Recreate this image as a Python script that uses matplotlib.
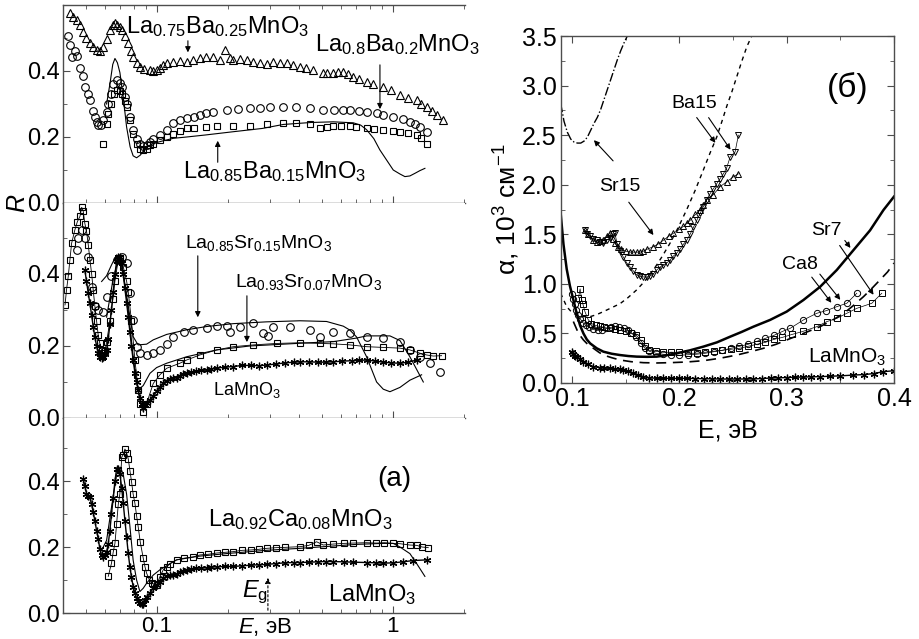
import matplotlib
matplotlib.use("Agg")
import matplotlib.pyplot as plt
from matplotlib.ticker import MultipleLocator, NullFormatter, LogLocator, FixedLocator, FixedFormatter, FormatStrFormatter

plt.rcParams['font.family'] = ['Liberation Sans', 'DejaVu Sans']
plt.rcParams['mathtext.fontset'] = 'custom'
plt.rcParams['mathtext.rm'] = 'Liberation Sans'
plt.rcParams['mathtext.it'] = 'Liberation Sans:italic'
plt.rcParams['mathtext.bf'] = 'Liberation Sans:bold'

# ---------- reflectivity R(E), Ba-doped (top) ----------
ba25_E = [0.0428, 0.0440, 0.0457, 0.0472, 0.0487, 0.0503, 0.0520, 0.0537, 0.0555, 0.0573,
          0.0592, 0.0612, 0.0632, 0.0650, 0.0664, 0.0680, 0.0697, 0.0709, 0.0730, 0.0756,
          0.0780, 0.0793, 0.0820, 0.0847, 0.0880, 0.0934, 0.0965, 0.0997, 0.1030, 0.1064,
          0.1100, 0.1173, 0.125, 0.1336, 0.142, 0.1521, 0.162, 0.1733, 0.1849, 0.1941,
          0.2038, 0.2106, 0.225, 0.2398, 0.256, 0.2732, 0.2915, 0.3111, 0.332, 0.3542,
          0.378, 0.4036, 0.43, 0.4596, 0.5066, 0.5234, 0.5587, 0.5866, 0.6161, 0.646,
          0.6791, 0.72, 0.7735, 0.82, 0.91, 0.98, 1.071, 1.16, 1.26, 1.32,
          1.389, 1.46, 1.531, 1.634]
ba25_R = [0.575, 0.565, 0.555, 0.538, 0.519, 0.500, 0.484, 0.472, 0.464, 0.462,
          0.474, 0.498, 0.524, 0.538, 0.544, 0.540, 0.532, 0.524, 0.505, 0.484,
          0.460, 0.443, 0.425, 0.413, 0.406, 0.403, 0.401, 0.403, 0.410, 0.418,
          0.424, 0.428, 0.429, 0.428, 0.432, 0.438, 0.441, 0.443, 0.433, 0.464,
          0.438, 0.433, 0.436, 0.433, 0.427, 0.423, 0.420, 0.428, 0.424, 0.423,
          0.418, 0.413, 0.410, 0.403, 0.393, 0.395, 0.395, 0.397, 0.398, 0.390,
          0.383, 0.377, 0.368, 0.361, 0.351, 0.341, 0.327, 0.319, 0.312, 0.300,
          0.292, 0.280, 0.267, 0.252]

ba20_E = [0.0420, 0.0428, 0.0435, 0.0450, 0.0457, 0.0472, 0.0487, 0.0495, 0.0510, 0.0520,
          0.0537, 0.0546, 0.0555, 0.0564, 0.0580, 0.0592, 0.0612, 0.0622, 0.0640, 0.0653,
          0.0675, 0.0697, 0.0709, 0.0730, 0.0744, 0.0770, 0.0793, 0.0820, 0.0847, 0.0875,
          0.0904, 0.0934, 0.0965, 0.1030, 0.1099, 0.1173, 0.125, 0.1336, 0.143, 0.1521,
          0.162, 0.1733, 0.1973, 0.22, 0.2477, 0.2732, 0.30, 0.3429, 0.39, 0.4447,
          0.5066, 0.56, 0.6161, 0.6574, 0.72, 0.7735, 0.8527, 0.91, 1.003, 1.10,
          1.18, 1.24, 1.301, 1.389]
ba20_R = [0.505, 0.480, 0.443, 0.460, 0.445, 0.410, 0.385, 0.352, 0.330, 0.312,
          0.280, 0.262, 0.245, 0.236, 0.235, 0.250, 0.275, 0.300, 0.330, 0.360,
          0.373, 0.365, 0.352, 0.320, 0.300, 0.260, 0.220, 0.195, 0.180, 0.172,
          0.175, 0.185, 0.195, 0.205, 0.222, 0.242, 0.252, 0.258, 0.262, 0.267,
          0.272, 0.276, 0.282, 0.284, 0.287, 0.289, 0.290, 0.292, 0.290, 0.287,
          0.282, 0.282, 0.282, 0.282, 0.279, 0.277, 0.272, 0.268, 0.262, 0.255,
          0.246, 0.238, 0.231, 0.216]

ba15_E = [0.0592, 0.0612, 0.0622, 0.0642, 0.0660, 0.0675, 0.0697, 0.0709, 0.0730, 0.0744,
          0.0770, 0.0793, 0.0820, 0.0850, 0.0875, 0.0904, 0.0934, 0.0965, 0.1030, 0.1099,
          0.1173, 0.125, 0.1336, 0.143, 0.162, 0.179, 0.2106, 0.2477, 0.2915, 0.3429,
          0.39, 0.4447, 0.4904, 0.5234, 0.5587, 0.60, 0.6574, 0.70, 0.7735, 0.83,
          0.91, 1.003, 1.071, 1.16, 1.26, 1.32, 1.389]
ba15_R = [0.180, 0.240, 0.270, 0.300, 0.330, 0.342, 0.338, 0.330, 0.310, 0.290,
          0.250, 0.210, 0.180, 0.165, 0.160, 0.165, 0.175, 0.180, 0.192, 0.200,
          0.210, 0.218, 0.226, 0.228, 0.230, 0.232, 0.233, 0.234, 0.238, 0.242,
          0.241, 0.240, 0.226, 0.230, 0.234, 0.233, 0.232, 0.230, 0.226, 0.224,
          0.220, 0.218, 0.216, 0.212, 0.206, 0.198, 0.180]

fit_ba_E = [0.0612, 0.0632, 0.0650, 0.0664, 0.0680, 0.0697, 0.0720, 0.0744, 0.0770, 0.0793,
            0.0820, 0.0850, 0.0904, 0.0965, 0.1030, 0.1173, 0.1336, 0.16, 0.2106, 0.28,
            0.3429, 0.45, 0.5587, 0.6791, 0.73, 0.7735, 0.83, 0.88, 1.003, 1.07,
            1.124, 1.18, 1.24, 1.30, 1.366]
fit_ba_R = [0.300, 0.360, 0.420, 0.438, 0.425, 0.395, 0.320, 0.230, 0.170, 0.143,
            0.137, 0.145, 0.170, 0.180, 0.186, 0.196, 0.200, 0.206, 0.216, 0.226,
            0.238, 0.244, 0.246, 0.243, 0.236, 0.222, 0.195, 0.161, 0.100, 0.088,
            0.080, 0.082, 0.090, 0.098, 0.105]

# ---------- Sr-doped and LaMnO3 (middle) ----------
sr07_E = [0.0408, 0.0414, 0.0421, 0.0428, 0.0435, 0.0449, 0.0460, 0.0472, 0.0480, 0.0487,
          0.0495, 0.0503, 0.0512, 0.0520, 0.0529, 0.0537, 0.0546, 0.0555, 0.0564, 0.0573,
          0.0583, 0.0592, 0.0602, 0.0612, 0.0632, 0.0650, 0.0664, 0.0686, 0.0700, 0.0720,
          0.0744, 0.0756, 0.0780, 0.0807, 0.0820, 0.0833, 0.0850, 0.0875, 0.0904, 0.0965,
          0.1030, 0.1099, 0.125, 0.1336, 0.1521, 0.179, 0.2106, 0.256, 0.3214, 0.4036,
          0.4904, 0.5587, 0.6574, 0.7735, 0.91, 1.071, 1.18, 1.301, 1.389, 1.483,
          1.608]
sr07_R = [0.314, 0.356, 0.393, 0.440, 0.485, 0.522, 0.545, 0.560, 0.585, 0.575,
          0.540, 0.520, 0.480, 0.440, 0.400, 0.356, 0.310, 0.270, 0.230, 0.207,
          0.190, 0.180, 0.185, 0.210, 0.270, 0.330, 0.380, 0.440, 0.445, 0.420,
          0.380, 0.350, 0.270, 0.160, 0.120, 0.078, 0.040, 0.018, 0.040, 0.096,
          0.120, 0.138, 0.152, 0.161, 0.175, 0.189, 0.198, 0.203, 0.207, 0.209,
          0.207, 0.206, 0.203, 0.198, 0.196, 0.194, 0.189, 0.180, 0.175, 0.172,
          0.173]

sr15_E = [0.0457, 0.0465, 0.0480, 0.0495, 0.0512, 0.0529, 0.0546, 0.0564, 0.0592, 0.0612,
          0.0642, 0.0675, 0.0709, 0.0744, 0.0769, 0.0793, 0.0820, 0.0847, 0.0904, 0.0965,
          0.1030, 0.1099, 0.1173, 0.130, 0.1426, 0.1623, 0.179, 0.1973, 0.2038, 0.2248,
          0.256, 0.2822, 0.2963, 0.3111, 0.3662, 0.4447, 0.4904, 0.5587, 0.6574, 0.7735,
          0.91, 1.071, 1.18, 1.301, 1.435, 1.582]
sr15_R = [0.467, 0.500, 0.522, 0.500, 0.448, 0.363, 0.310, 0.300, 0.295, 0.337,
          0.395, 0.440, 0.448, 0.430, 0.346, 0.272, 0.198, 0.180, 0.175, 0.180,
          0.190, 0.205, 0.226, 0.238, 0.244, 0.249, 0.255, 0.256, 0.240, 0.254,
          0.263, 0.235, 0.228, 0.254, 0.252, 0.244, 0.226, 0.240, 0.237, 0.226,
          0.221, 0.210, 0.189, 0.170, 0.152, 0.129]

la_mid_E = [0.0495, 0.0503, 0.0512, 0.0520, 0.0529, 0.0537, 0.0546, 0.0555, 0.0564, 0.0573,
            0.0583, 0.0592, 0.0602, 0.0612, 0.0622, 0.0632, 0.0642, 0.0653, 0.0664, 0.0675,
            0.0686, 0.0697, 0.0709, 0.0720, 0.0732, 0.0744, 0.0756, 0.0768, 0.0780, 0.0793,
            0.0807, 0.0820, 0.0833, 0.0847, 0.0861, 0.0875, 0.0890, 0.0904, 0.0934, 0.0965,
            0.0997, 0.1030, 0.1064, 0.1099, 0.1136, 0.1173, 0.1211, 0.125, 0.129, 0.1336,
            0.140, 0.147, 0.154, 0.1623, 0.170, 0.180, 0.195, 0.2106, 0.230, 0.250,
            0.270, 0.2915, 0.320, 0.350, 0.380, 0.4036, 0.440, 0.480, 0.520, 0.5587,
            0.610, 0.670, 0.720, 0.7735, 0.840, 0.910, 0.980, 1.071, 1.160, 1.260]
la_mid_R = [0.411, 0.380, 0.346, 0.318, 0.285, 0.254, 0.225, 0.200, 0.180, 0.170,
            0.166, 0.170, 0.178, 0.189, 0.220, 0.260, 0.300, 0.350, 0.400, 0.435,
            0.448, 0.448, 0.430, 0.400, 0.360, 0.320, 0.281, 0.240, 0.200, 0.161,
            0.125, 0.100, 0.078, 0.055, 0.038, 0.027, 0.035, 0.042, 0.050, 0.062,
            0.075, 0.087, 0.097, 0.104, 0.108, 0.110, 0.112, 0.118, 0.122, 0.124,
            0.127, 0.130, 0.132, 0.133, 0.136, 0.139, 0.141, 0.143, 0.146, 0.146,
            0.145, 0.147, 0.150, 0.153, 0.155, 0.156, 0.156, 0.155, 0.155, 0.156,
            0.158, 0.159, 0.160, 0.161, 0.158, 0.155, 0.153, 0.152, 0.155, 0.161]

fit_sr15_E = [0.0583, 0.0612, 0.0642, 0.0675, 0.0700, 0.0720, 0.0744, 0.0769, 0.0793, 0.0820,
              0.0833, 0.0904, 0.0965, 0.1099, 0.1336, 0.1623, 0.2106, 0.2915, 0.4036, 0.5234,
              0.6161, 0.6574, 0.7015, 0.7735, 0.8527, 0.91, 0.9712, 1.071, 1.18, 1.323]
fit_sr15_R = [0.379, 0.395, 0.425, 0.453, 0.440, 0.400, 0.340, 0.280, 0.226, 0.210,
              0.203, 0.205, 0.217, 0.232, 0.245, 0.254, 0.262, 0.267, 0.270, 0.268,
              0.255, 0.244, 0.225, 0.170, 0.100, 0.080, 0.073, 0.085, 0.105, 0.120]

fit_sr07_E = [0.0612, 0.0650, 0.0686, 0.0720, 0.0756, 0.0793, 0.0820, 0.0833, 0.0875, 0.0934,
              0.0997, 0.1099, 0.1336, 0.179, 0.2477, 0.3429, 0.4447, 0.5587, 0.7015, 0.7735,
              0.9712, 1.071, 1.18, 1.26, 1.345]
fit_sr07_R = [0.280, 0.380, 0.440, 0.400, 0.300, 0.170, 0.100, 0.078, 0.090, 0.124,
              0.140, 0.152, 0.170, 0.189, 0.200, 0.205, 0.209, 0.212, 0.222, 0.228,
              0.228, 0.215, 0.170, 0.135, 0.100]

# ---------- Ca-doped and LaMnO3 (bottom) ----------
la_bot_E = [0.0487, 0.0495, 0.0503, 0.0512, 0.0520, 0.0529, 0.0537, 0.0546, 0.0555, 0.0564,
            0.0573, 0.0583, 0.0592, 0.0602, 0.0612, 0.0622, 0.0632, 0.0642, 0.0653, 0.0664,
            0.0675, 0.0686, 0.0697, 0.0709, 0.0720, 0.0732, 0.0744, 0.0756, 0.0768, 0.0780,
            0.0793, 0.0807, 0.0820, 0.0833, 0.0847, 0.0861, 0.0875, 0.0890, 0.0904, 0.0934,
            0.0965, 0.0997, 0.1030, 0.1064, 0.1099, 0.1136, 0.1173, 0.1211, 0.125, 0.129,
            0.1336, 0.140, 0.147, 0.154, 0.1623, 0.170, 0.180, 0.195, 0.2106, 0.230,
            0.250, 0.270, 0.2915, 0.320, 0.350, 0.380, 0.4036, 0.440, 0.480, 0.520,
            0.5587, 0.620, 0.680, 0.7735, 0.850, 0.910, 1.000, 1.100, 1.219, 1.389]
la_bot_R = [0.407, 0.385, 0.362, 0.355, 0.352, 0.330, 0.305, 0.280, 0.250, 0.225,
            0.195, 0.175, 0.171, 0.175, 0.185, 0.210, 0.250, 0.300, 0.350, 0.400,
            0.437, 0.437, 0.422, 0.380, 0.332, 0.280, 0.230, 0.181, 0.140, 0.110,
            0.080, 0.060, 0.045, 0.035, 0.030, 0.027, 0.027, 0.040, 0.050, 0.060,
            0.075, 0.085, 0.095, 0.105, 0.112, 0.116, 0.116, 0.118, 0.124, 0.128,
            0.131, 0.134, 0.136, 0.136, 0.137, 0.139, 0.140, 0.141, 0.141, 0.143,
            0.145, 0.146, 0.147, 0.150, 0.152, 0.153, 0.153, 0.154, 0.155, 0.156,
            0.156, 0.155, 0.154, 0.153, 0.152, 0.151, 0.152, 0.155, 0.159, 0.161]

ca08_E = [0.0622, 0.0642, 0.0653, 0.0664, 0.0675, 0.0686, 0.0697, 0.0709, 0.0720, 0.0732,
          0.0744, 0.0756, 0.0769, 0.0781, 0.0793, 0.0807, 0.0820, 0.0833, 0.0850, 0.0875,
          0.0890, 0.0904, 0.0930, 0.0949, 0.0970, 0.0997, 0.1030, 0.1064, 0.110, 0.1136,
          0.1211, 0.130, 0.1426, 0.1521, 0.165, 0.180, 0.195, 0.2106, 0.230, 0.250,
          0.270, 0.2915, 0.320, 0.350, 0.4036, 0.440, 0.4748, 0.5066, 0.5587, 0.620,
          0.680, 0.7735, 0.850, 0.920, 1.003, 1.071, 1.18, 1.26, 1.33, 1.412]
ca08_R = [0.111, 0.151, 0.185, 0.211, 0.271, 0.330, 0.362, 0.472, 0.480, 0.497,
          0.485, 0.467, 0.430, 0.397, 0.360, 0.332, 0.295, 0.261, 0.215, 0.166,
          0.140, 0.121, 0.100, 0.090, 0.088, 0.085, 0.110, 0.131, 0.140, 0.150,
          0.161, 0.166, 0.170, 0.176, 0.178, 0.182, 0.184, 0.186, 0.190, 0.191,
          0.193, 0.196, 0.198, 0.199, 0.201, 0.205, 0.216, 0.206, 0.209, 0.211,
          0.212, 0.213, 0.212, 0.213, 0.211, 0.210, 0.206, 0.205, 0.200, 0.198]

fit_ca_E = [0.0583, 0.0612, 0.0642, 0.0675, 0.0700, 0.0720, 0.0744, 0.0769, 0.0793, 0.0820,
            0.0847, 0.0875, 0.0904, 0.0965, 0.1030, 0.1211, 0.150, 0.2038, 0.2915, 0.4036,
            0.5587, 0.7015, 0.91, 1.003, 1.071, 1.18, 1.26, 1.366]
fit_ca_R = [0.190, 0.220, 0.320, 0.420, 0.442, 0.420, 0.360, 0.260, 0.160, 0.100,
            0.065, 0.075, 0.090, 0.115, 0.131, 0.161, 0.172, 0.181, 0.190, 0.196,
            0.203, 0.208, 0.211, 0.211, 0.200, 0.180, 0.150, 0.111]

# ---------- absorption alpha(E) ----------
sr15_fit_E = [0.0894, 0.0925, 0.0956, 0.0988, 0.1019, 0.1050, 0.1081, 0.1112, 0.1143, 0.1174,
              0.1205, 0.1236, 0.1267, 0.1298, 0.1329, 0.1360, 0.1391, 0.1422, 0.1453, 0.1484,
              0.1515]
sr15_fit_a = [2.82, 2.64, 2.53, 2.46, 2.43, 2.42, 2.42, 2.44, 2.48, 2.55,
              2.62, 2.68, 2.76, 2.86, 2.96, 3.06, 3.16, 3.26, 3.35, 3.43,
              3.50]

ba15_fit_E = [0.0894, 0.0950, 0.1000, 0.1043, 0.1100, 0.1168, 0.1230, 0.1292, 0.1370, 0.1447,
              0.1520, 0.1603, 0.1680, 0.1758, 0.1836, 0.1913, 0.1990, 0.2069, 0.2146, 0.2224,
              0.2286, 0.2348, 0.2400, 0.2441, 0.2490, 0.2535, 0.2580, 0.2628, 0.2674]
ba15_fit_a = [0.905, 0.77, 0.71, 0.686, 0.670, 0.669, 0.690, 0.72, 0.76, 0.80,
              0.86, 0.94, 1.03, 1.14, 1.27, 1.41, 1.57, 1.75, 1.94, 2.15,
              2.32, 2.48, 2.65, 2.79, 2.94, 3.09, 3.24, 3.39, 3.50]

ba15a_E = [0.1121, 0.1140, 0.1168, 0.1199, 0.1230, 0.1261, 0.1292, 0.1323, 0.1354, 0.1385,
           0.1400, 0.1420, 0.1447, 0.1478, 0.1510, 0.1541, 0.1572, 0.1603, 0.1634, 0.1665,
           0.1696, 0.1727, 0.1758, 0.1789, 0.1820, 0.1851, 0.1882, 0.1913, 0.1944, 0.1975,
           0.2006, 0.2038, 0.2069, 0.2100, 0.2131, 0.2162, 0.2193, 0.2224, 0.2255, 0.2286,
           0.2317, 0.2348, 0.2379, 0.2410, 0.2441, 0.2473, 0.2519, 0.2550]
ba15a_a = [1.54, 1.50, 1.48, 1.45, 1.44, 1.42, 1.41, 1.44, 1.46, 1.50,
           1.51, 1.40, 1.33, 1.27, 1.21, 1.17, 1.13, 1.09, 1.075, 1.07,
           1.07, 1.08, 1.10, 1.14, 1.17, 1.19, 1.21, 1.24, 1.28, 1.31,
           1.35, 1.40, 1.44, 1.50, 1.57, 1.64, 1.71, 1.78, 1.85, 1.91,
           1.96, 2.01, 2.06, 2.11, 2.17, 2.28, 2.33, 2.50]

ba15b_E = [0.1121, 0.1150, 0.1199, 0.1230, 0.1261, 0.1292, 0.1323, 0.1354, 0.1380, 0.1400,
           0.1430, 0.1460, 0.1500, 0.1541, 0.1572, 0.1603, 0.1634, 0.1665, 0.1700, 0.1758,
           0.1800, 0.1851, 0.1900, 0.1944, 0.2000, 0.2038, 0.2069, 0.2100, 0.2150, 0.2193,
           0.2224, 0.2255, 0.2317, 0.2379, 0.2441, 0.2504, 0.2550]
ba15b_a = [1.54, 1.50, 1.44, 1.42, 1.43, 1.44, 1.48, 1.51, 1.45, 1.41,
           1.37, 1.35, 1.33, 1.32, 1.32, 1.32, 1.32, 1.33, 1.35, 1.375,
           1.40, 1.44, 1.48, 1.51, 1.55, 1.58, 1.61, 1.64, 1.70, 1.745,
           1.80, 1.85, 1.90, 1.98, 2.03, 2.08, 2.11]

sr7_fit_E = [0.0894, 0.0920, 0.0950, 0.0980, 0.1012, 0.1043, 0.1075, 0.1106, 0.1137, 0.1168,
             0.1230, 0.1292, 0.1370, 0.1447, 0.1525, 0.1603, 0.1700, 0.1789, 0.1880, 0.1975,
             0.2100, 0.2224, 0.2350, 0.2473, 0.2580, 0.2690, 0.2845, 0.3000, 0.3156, 0.3311,
             0.3467, 0.3622, 0.3777, 0.3902, 0.4000]
sr7_fit_a = [1.71, 1.40, 1.15, 0.98, 0.84, 0.70, 0.58, 0.50, 0.44, 0.40,
             0.35, 0.316, 0.295, 0.282, 0.272, 0.266, 0.264, 0.266, 0.28, 0.30,
             0.33, 0.367, 0.41, 0.467, 0.515, 0.568, 0.636, 0.72, 0.837, 0.97,
             1.14, 1.34, 1.54, 1.745, 1.88]

ca8_fit_E = [0.1012, 0.1060, 0.1106, 0.1150, 0.1199, 0.1250, 0.1292, 0.1370, 0.1447, 0.1550,
             0.1665, 0.1790, 0.1913, 0.2070, 0.2224, 0.2380, 0.2535, 0.2660, 0.2783, 0.2900,
             0.3000, 0.3156, 0.3311, 0.3420, 0.3529, 0.3620, 0.3715, 0.3790, 0.3870, 0.3940,
             0.4000]
ca8_fit_a = [0.62, 0.50, 0.434, 0.385, 0.35, 0.31, 0.282, 0.255, 0.232, 0.215,
             0.205, 0.202, 0.205, 0.212, 0.225, 0.25, 0.282, 0.315, 0.35, 0.39,
             0.434, 0.50, 0.568, 0.63, 0.70, 0.78, 0.87, 0.95, 1.04, 1.12,
             1.21]

la_abs_E = [0.1000, 0.1012, 0.1025, 0.1043, 0.1075, 0.1106, 0.1150, 0.1199, 0.1260, 0.1300,
            0.1354, 0.1400, 0.1447, 0.1478, 0.1520, 0.1572, 0.1610, 0.1665, 0.1720, 0.1789,
            0.1850, 0.1920, 0.2000, 0.2069, 0.2150, 0.2230, 0.2300, 0.2380, 0.2460, 0.2540,
            0.2620, 0.2690, 0.2770, 0.2850, 0.2920, 0.3000, 0.3080, 0.3150, 0.3230, 0.3310,
            0.3400, 0.3500, 0.3620, 0.3720, 0.3810, 0.3900, 0.4000]
la_abs_a = [0.316, 0.29, 0.275, 0.266, 0.24, 0.215, 0.19, 0.165, 0.155, 0.150,
            0.148, 0.145, 0.138, 0.131, 0.118, 0.098, 0.085, 0.064, 0.052, 0.047,
            0.047, 0.046, 0.046, 0.047, 0.045, 0.043, 0.042, 0.040, 0.040, 0.040,
            0.040, 0.041, 0.045, 0.050, 0.052, 0.055, 0.058, 0.060, 0.062, 0.064,
            0.068, 0.072, 0.080, 0.085, 0.095, 0.114, 0.124]

ca8_E = [0.1000, 0.1012, 0.1025, 0.1040, 0.1055, 0.1075, 0.1100, 0.1130, 0.1160, 0.1199,
         0.1240, 0.1280, 0.1320, 0.1360, 0.1400, 0.1440, 0.1480, 0.1520, 0.1560, 0.1600,
         0.1640, 0.1680, 0.1720, 0.1780, 0.1850, 0.1920, 0.2000, 0.2080, 0.2160, 0.2240,
         0.2320, 0.2400, 0.2480, 0.2560, 0.2640, 0.2720, 0.2800, 0.2880, 0.2960, 0.3032,
         0.3156, 0.3280, 0.3370, 0.3467, 0.3560, 0.3653]
ca8_a = [0.90, 0.85, 0.80, 0.74, 0.69, 0.65, 0.61, 0.58, 0.56, 0.54,
         0.53, 0.53, 0.55, 0.56, 0.57, 0.56, 0.55, 0.53, 0.50, 0.46,
         0.40, 0.35, 0.32, 0.30, 0.29, 0.285, 0.28, 0.285, 0.29, 0.30,
         0.315, 0.33, 0.35, 0.37, 0.39, 0.42, 0.45, 0.48, 0.52, 0.551,
         0.636, 0.703, 0.73, 0.77, 0.804, 0.905]

sr7_E = [0.1060, 0.1075, 0.1090, 0.1100, 0.1120, 0.1150, 0.1180, 0.1220, 0.1260, 0.1300,
         0.1350, 0.1400, 0.1450, 0.1500, 0.1550, 0.1600, 0.1640, 0.1680, 0.1720, 0.1780,
         0.1850, 0.1920, 0.2000, 0.2080, 0.2160, 0.2240, 0.2320, 0.2400, 0.2480, 0.2560,
         0.2640, 0.2720, 0.2800, 0.2880, 0.2960, 0.3050, 0.3150, 0.3280, 0.3373, 0.3467,
         0.3560, 0.3653, 0.3793, 0.3886]
sr7_a = [0.86, 0.95, 0.84, 0.80, 0.72, 0.64, 0.60, 0.58, 0.57, 0.56,
         0.55, 0.54, 0.53, 0.52, 0.50, 0.48, 0.43, 0.37, 0.33, 0.32,
         0.31, 0.31, 0.31, 0.30, 0.30, 0.31, 0.32, 0.33, 0.34, 0.35,
         0.37, 0.39, 0.41, 0.44, 0.46, 0.49, 0.52, 0.568, 0.619, 0.652,
         0.703, 0.753, 0.804, 0.905]

AX = '0.3'
W, H = 920, 639

fig = plt.figure(figsize=(9.2, 6.39), dpi=100)


def box(x0, y0, x1, y1):
    # pixel box (top-left origin) -> figure fraction rect
    return [x0 / W, 1 - y1 / H, (x1 - x0) / W, (y1 - y0) / H]


ax1 = fig.add_axes(box(63, 5, 465, 203))
ax2 = fig.add_axes(box(63, 203, 465, 418))
ax3 = fig.add_axes(box(63, 418, 465, 613))
axr = fig.add_axes(box(561, 36, 894, 383))

for ax, top in ((ax1, 0.6), (ax2, 0.597), (ax3, 0.591)):
    ax.set_xscale('log')
    ax.set_xlim(0.04, 2.02)
    ax.set_ylim(0, top)
    ax.spines['right'].set_visible(False)
    for s in ('left', 'top', 'bottom'):
        ax.spines[s].set_color(AX)
        ax.spines[s].set_linewidth(1.0)
    ax.xaxis.set_major_locator(FixedLocator([0.1, 1]))
    ax.xaxis.set_minor_locator(LogLocator(base=10, subs=range(2, 10)))
    ax.xaxis.set_minor_formatter(NullFormatter())
    ax.set_yticks([0, 0.2, 0.4])
    ax.set_yticklabels(['0.0', '0.2', '0.4'])
    ax.yaxis.set_minor_locator(MultipleLocator(0.1))
    ax.tick_params(which='both', direction='in', right=False, top=False,
                   color=AX, labelsize=17, pad=2)
    ax.tick_params(which='major', length=5)
    ax.tick_params(which='minor', length=3)
    ax.set_xticklabels([])

ax2.spines['top'].set_visible(False)
ax3.spines['top'].set_visible(False)
ax1.tick_params(which='both', top=True)
ax3.xaxis.set_major_formatter(FixedFormatter(['0.1', '1']))
ax3.tick_params(axis='x', labelsize=16, pad=2)

mk = dict(mfc='none', mec='k', mew=0.8, ls='none')
star = dict(marker=(6, 2, 0), ms=5.5, mec='k', mew=0.9, color='k', lw=1.0)

# top panel
ax1.plot(ba25_E, ba25_R, marker='^', ms=6, **mk)
ax1.plot(ba20_E, ba20_R, marker='o', ms=5.5, **mk)
ax1.plot(ba15_E, ba15_R, marker='s', ms=4.5, **mk)
ax1.plot(fit_ba_E, fit_ba_R, color='k', lw=0.8)

ax1.text(0.181, 0.535, r'La$_{0.75}$Ba$_{0.25}$MnO$_3$', fontsize=17, ha='center', va='center')
ax1.text(0.467, 0.48, r'La$_{0.8}$Ba$_{0.2}$MnO$_3$', fontsize=17, ha='left', va='center')
ax1.text(0.1289, 0.094, r'La$_{0.85}$Ba$_{0.15}$MnO$_3$', fontsize=17, ha='left', va='center')
arr = dict(arrowstyle='-|>', color='k', lw=0.8, mutation_scale=8)
ax1.annotate('', xy=(0.1353, 0.448), xytext=(0.1353, 0.50), arrowprops=arr)
ax1.annotate('', xy=(0.881, 0.276), xytext=(0.881, 0.427), arrowprops=arr)
ax1.annotate('', xy=(0.181, 0.197), xytext=(0.181, 0.115), arrowprops=arr)
fig.text(17 / W, 1 - 203 / H, 'R', fontsize=18, fontstyle='italic', rotation=90,
         ha='center', va='center')

# middle panel
ax2.plot(sr07_E, sr07_R, marker='s', ms=4.5, mfc='none', mec='k', mew=0.8, color='k', lw=0.6)
ax2.plot(sr15_E, sr15_R, marker='o', ms=5.5, **mk)
ax2.plot(la_mid_E, la_mid_R, **star)
ax2.plot(fit_sr15_E, fit_sr15_R, color='k', lw=0.8)
ax2.plot(fit_sr07_E, fit_sr07_R, color='k', lw=0.8)

ax2.text(0.1314, 0.486, r'La$_{0.85}$Sr$_{0.15}$MnO$_3$', fontsize=14, ha='left', va='center')
ax2.text(0.2141, 0.378, r'La$_{0.93}$Sr$_{0.07}$MnO$_3$', fontsize=14, ha='left', va='center')
ax2.text(0.1727, 0.078, r'LaMnO$_3$', fontsize=13, ha='left', va='center')
ax2.annotate('', xy=(0.149, 0.272), xytext=(0.149, 0.458), arrowprops=arr)
ax2.annotate('', xy=(0.2406, 0.203), xytext=(0.2406, 0.347), arrowprops=arr)

# bottom panel
ax3.plot(la_bot_E, la_bot_R, **star)
ax3.plot(ca08_E, ca08_R, marker='s', ms=4.5, mfc='none', mec='k', mew=0.8, color='k', lw=0.6)
ax3.plot(fit_ca_E, fit_ca_R, color='k', lw=0.8)

ax3.text(0.855, 0.406, '(a)', fontsize=20, ha='left', va='center')
ax3.text(0.1645, 0.282, r'La$_{0.92}$Ca$_{0.08}$MnO$_3$', fontsize=17, ha='left', va='center')
ax3.text(0.2292, 0.064, r'$\mathit{E}_{\rm g}$', fontsize=17, ha='left', va='center')
ax3.text(0.530, 0.055, r'LaMnO$_3$', fontsize=17, ha='left', va='center')
ax3.annotate('', xy=(0.2953, 0.115), xytext=(0.2953, 0.0),
             arrowprops=dict(arrowstyle='-|>', color='k', lw=0.8, ls=(0, (2, 2)), mutation_scale=8))
ax3.text(0.2204, -0.072, r'$\mathit{E}$, эВ', fontsize=16, ha='left', va='center',
         transform=ax3.get_xaxis_transform())

# absorption panel
axr.set_xlim(0.0897, 0.4)
axr.set_ylim(0, 3.5)
for s in axr.spines.values():
    s.set_color(AX)
    s.set_linewidth(1.0)
axr.xaxis.set_major_locator(MultipleLocator(0.1))
axr.xaxis.set_minor_locator(MultipleLocator(0.05))
axr.yaxis.set_major_locator(MultipleLocator(0.5))
axr.yaxis.set_minor_locator(MultipleLocator(0.25))
axr.xaxis.set_major_formatter(FormatStrFormatter('%.1f'))
axr.yaxis.set_major_formatter(FormatStrFormatter('%.1f'))
axr.tick_params(which='both', direction='in', top=True, right=True, color=AX, labelsize=18, pad=3)
axr.tick_params(which='major', length=5)
axr.tick_params(which='minor', length=3)

axr.plot(sr15_fit_E, sr15_fit_a, color='k', lw=1.0, ls='-.')
axr.plot(ba15_fit_E, ba15_fit_a, color='k', lw=1.0, ls=(0, (3, 3)))
axr.plot(sr7_fit_E, sr7_fit_a, color='k', lw=1.8)
axr.plot(ca8_fit_E, ca8_fit_a, color='k', lw=1.2, ls=(0, (6, 4)))
axr.plot(ba15a_E, ba15a_a, marker='v', ms=5, mfc='none', mec='k', mew=0.7, color='k', lw=0.5)
axr.plot(ba15b_E, ba15b_a, marker='^', ms=5, mfc='none', mec='k', mew=0.7, color='k', lw=0.5)
axr.plot(ca8_E, ca8_a, marker='o', ms=4.5, mfc='none', mec='k', mew=0.7, color='k', lw=0.5)
axr.plot(sr7_E, sr7_a, marker='s', ms=4, mfc='none', mec='k', mew=0.7, color='k', lw=0.5)
axr.plot(la_abs_E, la_abs_a, marker=(6, 2, 0), ms=5.5, mec='k', mew=0.9, color='k', lw=1.0)

axr.text(0.357, 2.98, '(б)', fontsize=24, ha='center', va='center')
axr.text(0.2137, 2.82, 'Ba15', fontsize=14, ha='center', va='center')
axr.text(0.1447, 1.98, 'Sr15', fontsize=14, ha='center', va='center')
axr.text(0.3367, 1.54, 'Sr7', fontsize=14, ha='center', va='center')
axr.text(0.3125, 1.20, 'Ca8', fontsize=14, ha='center', va='center')
axr.text(0.356, 0.26, r'LaMnO$_3$', fontsize=15, ha='center', va='center')
for (x0, y0), (x1, y1) in [((0.2146, 2.70), (0.2351, 2.40)), ((0.2258, 2.70), (0.2491, 2.33)),
                           ((0.140, 2.22), (0.1186, 2.47)), ((0.1513, 1.846), (0.1774, 1.47)),
                           ((0.3526, 1.46), (0.361, 1.34)), ((0.3479, 1.41), (0.3824, 0.867)),
                           ((0.3218, 1.09), (0.3432, 0.787)), ((0.3293, 1.12), (0.3516, 0.817))]:
    axr.annotate('', xy=(x1, y1), xytext=(x0, y0), arrowprops=arr)

axr.set_xlabel('E, эВ', fontsize=18, labelpad=5)
axr.set_ylabel(r'α, 10$^3$ см$^{-1}$', fontsize=19, labelpad=0)

fig.savefig('out.png', dpi=100)
